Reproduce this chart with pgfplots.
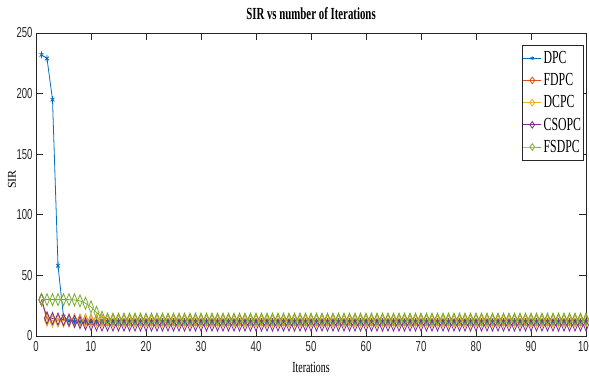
\documentclass[border=0pt]{standalone}
\usepackage{fontspec}
\setmainfont[FakeStretch=0.64]{Liberation Serif}
\newfontfamily\helv[FakeStretch=0.66]{Liberation Sans}
\newfontfamily\plainserif{Liberation Serif}
\usepackage{pgfplots}
\usepackage{pgfplotstable}
\pgfplotsset{compat=1.18}

\definecolor{mblue}{rgb}{0,0.447,0.741}
\definecolor{morange}{rgb}{0.85,0.325,0.098}
\definecolor{myellow}{rgb}{0.929,0.694,0.125}
\definecolor{mpurple}{rgb}{0.494,0.184,0.556}
\definecolor{mgreen}{rgb}{0.466,0.674,0.188}
\definecolor{axisgray}{rgb}{0.15,0.15,0.15}

% SIR per iteration for each power-control scheme
\pgfplotstableread{
it  dpc   fdpc dcpc csopc fsdpc
1   232   30   30   30    30
2   229   14   13   15    30
3   195   13   12.5 14.5  30
4   58    13   12.5 14    30
5   16    13   12.5 13.5  30
6   12.5  13   12.5 13    30
7   12    13   12.5 12    29.8
8   11.5  13   12.5 11    29
9   11.5  13   12.5 10    27
10  11.5  13   12.5 9.5   24
11  11.5  13   12.5 9.2   19.5
12  11.5  13   12.5 9     15.5
13  11.5  13   12.5 9     14
14  11.5  13   12.5 9     14
15  11.5  13   12.5 9     14
16  11.5  13   12.5 9     14
17  11.5  13   12.5 9     14
18  11.5  13   12.5 9     14
19  11.5  13   12.5 9     14
20  11.5  13   12.5 9     14
21  11.5  13   12.5 9     14
22  11.5  13   12.5 9     14
23  11.5  13   12.5 9     14
24  11.5  13   12.5 9     14
25  11.5  13   12.5 9     14
26  11.5  13   12.5 9     14
27  11.5  13   12.5 9     14
28  11.5  13   12.5 9     14
29  11.5  13   12.5 9     14
30  11.5  13   12.5 9     14
31  11.5  13   12.5 9     14
32  11.5  13   12.5 9     14
33  11.5  13   12.5 9     14
34  11.5  13   12.5 9     14
35  11.5  13   12.5 9     14
36  11.5  13   12.5 9     14
37  11.5  13   12.5 9     14
38  11.5  13   12.5 9     14
39  11.5  13   12.5 9     14
40  11.5  13   12.5 9     14
41  11.5  13   12.5 9     14
42  11.5  13   12.5 9     14
43  11.5  13   12.5 9     14
44  11.5  13   12.5 9     14
45  11.5  13   12.5 9     14
46  11.5  13   12.5 9     14
47  11.5  13   12.5 9     14
48  11.5  13   12.5 9     14
49  11.5  13   12.5 9     14
50  11.5  13   12.5 9     14
51  11.5  13   12.5 9     14
52  11.5  13   12.5 9     14
53  11.5  13   12.5 9     14
54  11.5  13   12.5 9     14
55  11.5  13   12.5 9     14
56  11.5  13   12.5 9     14
57  11.5  13   12.5 9     14
58  11.5  13   12.5 9     14
59  11.5  13   12.5 9     14
60  11.5  13   12.5 9     14
61  11.5  13   12.5 9     14
62  11.5  13   12.5 9     14
63  11.5  13   12.5 9     14
64  11.5  13   12.5 9     14
65  11.5  13   12.5 9     14
66  11.5  13   12.5 9     14
67  11.5  13   12.5 9     14
68  11.5  13   12.5 9     14
69  11.5  13   12.5 9     14
70  11.5  13   12.5 9     14
71  11.5  13   12.5 9     14
72  11.5  13   12.5 9     14
73  11.5  13   12.5 9     14
74  11.5  13   12.5 9     14
75  11.5  13   12.5 9     14
76  11.5  13   12.5 9     14
77  11.5  13   12.5 9     14
78  11.5  13   12.5 9     14
79  11.5  13   12.5 9     14
80  11.5  13   12.5 9     14
81  11.5  13   12.5 9     14
82  11.5  13   12.5 9     14
83  11.5  13   12.5 9     14
84  11.5  13   12.5 9     14
85  11.5  13   12.5 9     14
86  11.5  13   12.5 9     14
87  11.5  13   12.5 9     14
88  11.5  13   12.5 9     14
89  11.5  13   12.5 9     14
90  11.5  13   12.5 9     14
91  11.5  13   12.5 9     14
92  11.5  13   12.5 9     14
93  11.5  13   12.5 9     14
94  11.5  13   12.5 9     14
95  11.5  13   12.5 9     14
96  11.5  13   12.5 9     14
97  11.5  13   12.5 9     14
98  11.5  13   12.5 9     14
99  11.5  13   12.5 9     14
100 11.5  13   12.5 9     14
}\sirdata

\begin{document}
\begin{tikzpicture}
\begin{axis}[
  scale only axis,
  width=550bp, height=303bp,
  xmin=0, xmax=100, ymin=0, ymax=250,
  xtick={0,10,...,100}, ytick={0,50,...,250},
  tick align=inside,
  major tick length=7bp,
  axis line style={axisgray, line width=0.7bp},
  every tick/.style={axisgray, line width=0.7bp},
  /pgf/number format/assume math mode=true,
  ticklabel style={font=\helv\fontsize{14.5}{16}\selectfont, text=axisgray},
  xticklabel style={yshift=-2bp},
  title={SIR vs number of Iterations},
  title style={font=\bfseries\fontsize{17}{19}\selectfont,
    at={(axis description cs:0.5,1.0264)}, anchor=base},
  xlabel={Iterations},
  xlabel style={font=\fontsize{15.5}{17}\selectfont,
    at={(axis description cs:0.5,-0.122)}, anchor=base},
  ylabel={SIR},
  ylabel style={font=\plainserif\fontsize{12}{14}\selectfont,
    at={(axis description cs:-0.0436,0.517)}, anchor=center},
  legend style={at={(axis description cs:0.996,0.96)}, anchor=north east,
    draw=axisgray, line width=0.6bp, fill=white,
    font=\fontsize{18.5}{19}\selectfont,
    inner xsep=0.5bp, inner ysep=4bp, row sep=4.5bp},
  legend cell align=left,
  legend image code/.code={%
    \draw[mark repeat=2,mark phase=2,mark options={scale=0.55}]
      plot coordinates {(0bp,0bp) (9bp,0bp) (18bp,0bp)};},
  every axis plot/.append style={line width=0.8bp},
]
\addplot[mblue, mark=asterisk, mark size=3.5bp, mark options={solid, xscale=0.65}]
  table[x=it, y=dpc] {\sirdata};
\addlegendentry{DPC}
\addplot[morange, mark=diamond, mark size=6bp, mark options={solid, xscale=0.55}]
  table[x=it, y=fdpc] {\sirdata};
\addlegendentry{FDPC}
\addplot[myellow, mark=diamond, mark size=6bp, mark options={solid, xscale=0.55}]
  table[x=it, y=dcpc] {\sirdata};
\addlegendentry{DCPC}
\addplot[mpurple, mark=diamond, mark size=6bp, mark options={solid, xscale=0.55}]
  table[x=it, y=csopc] {\sirdata};
\addlegendentry{CSOPC}
\addplot[mgreen, mark=diamond, mark size=6bp, mark options={solid, xscale=0.55}]
  table[x=it, y=fsdpc] {\sirdata};
\addlegendentry{FSDPC}
\coordinate (bl) at (rel axis cs:0,0);
\coordinate (tr) at (rel axis cs:1,1);
\end{axis}
\pgfresetboundingbox
\path[use as bounding box] ([xshift=-36bp,yshift=-40bp]bl) rectangle ([xshift=3bp,yshift=33bp]tr);
\end{tikzpicture}
\end{document}
